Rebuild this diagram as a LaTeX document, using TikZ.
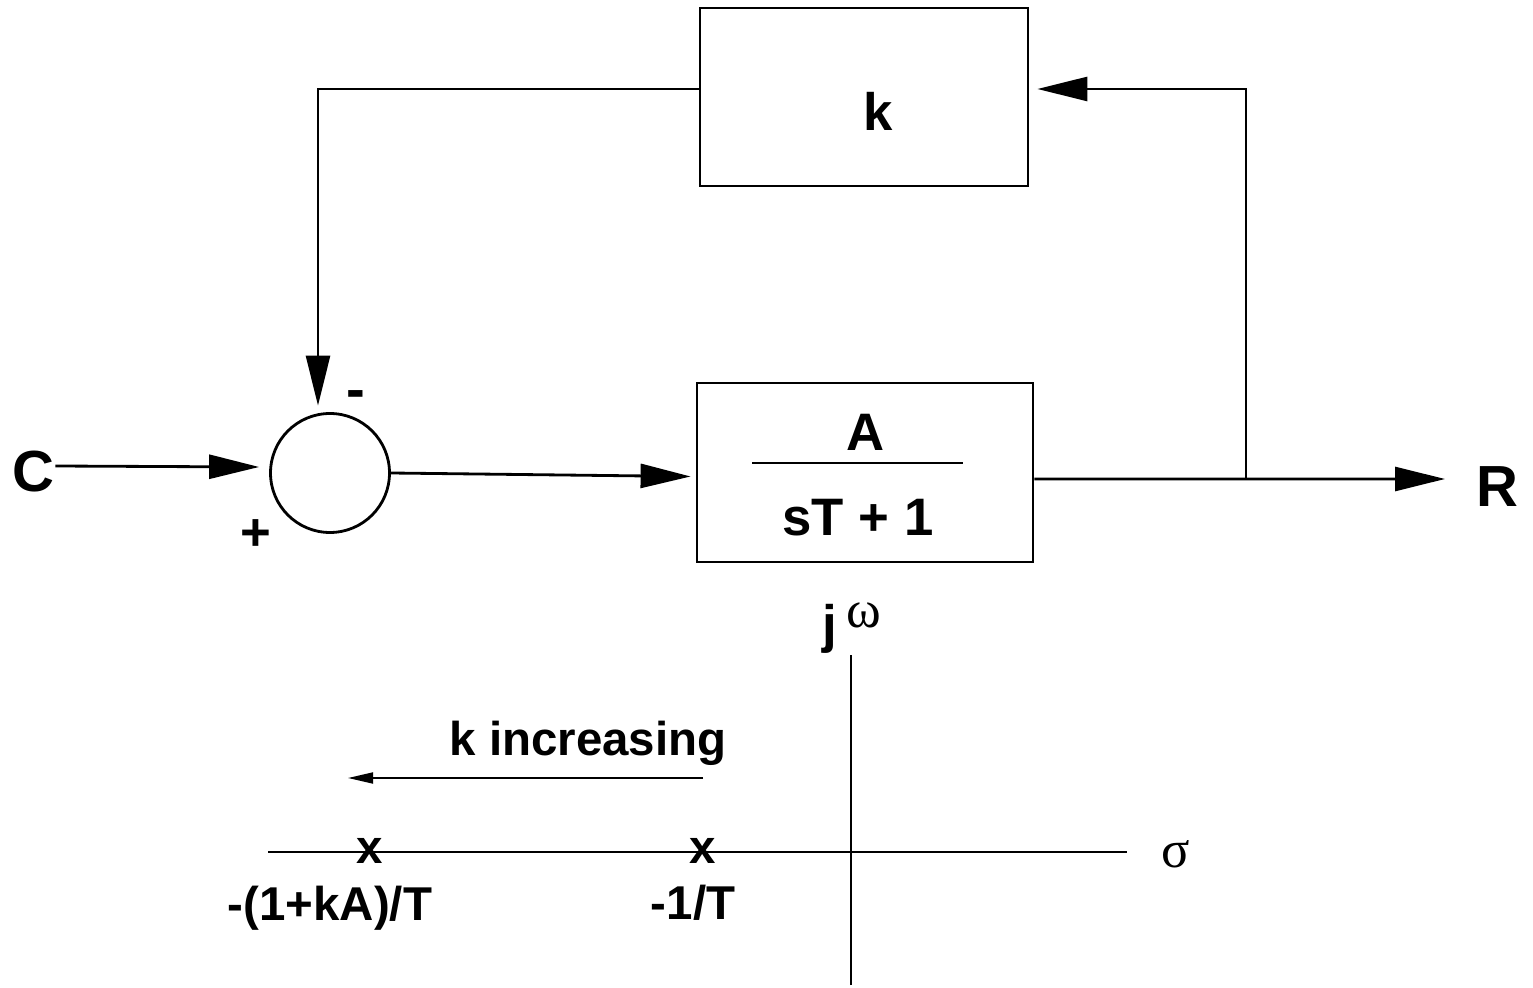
\documentclass[tikz,border=0pt]{standalone}
\usepackage{fontspec}
\setmainfont{Liberation Sans}
\newfontfamily\greekfont{Liberation Serif}
\usetikzlibrary{arrows.meta}
\usetikzlibrary{calc}
\usetikzlibrary{positioning}

\begin{document}
\begin{tikzpicture}[line width=0.8pt,
  block/.style={draw,rectangle,inner sep=0pt},
  lbl/.style={inner sep=0pt,font=\fontsize{15}{18}\selectfont\bfseries},
  small/.style={inner sep=0pt,font=\fontsize{13.5}{16}\selectfont\bfseries},
  flow/.style={-{Triangle[length=5mm,width=2.4mm]}}]
\useasboundingbox (0,0) rectangle (15.33,9.87);
% block diagram
\node[block,minimum width=3.28cm,minimum height=1.78cm] (kbox) at (8.64,8.90) {};
\node[lbl] (klbl) at (8.78,8.76) {k};
\node[block,minimum width=3.36cm,minimum height=1.79cm] (abox) at (8.65,5.145) {};
\node[lbl] (num) at (8.66,5.55) {A};
\node[lbl] (den) at (8.58,4.69) {sT + 1};
\draw (7.52,5.24) -- (9.63,5.24);
\node[draw,circle,inner sep=0pt,minimum size=1.19cm] (sum) at (3.30,5.14) {};
\node[lbl,font=\fontsize{16.5}{18}\selectfont\bfseries] (C) at (0.33,5.15) {C};
\node[lbl,font=\fontsize{16.5}{18}\selectfont\bfseries] (R) at (14.97,5.00) {R};
\node[lbl,font=\fontsize{16}{18}\selectfont\bfseries] (minus) at (3.56,5.87) {-};
\node[lbl] (plus) at (2.56,4.52) {+};
\coordinate (branch) at (12.46,5.08);
\coordinate (out) at (14.45,5.08);
\draw[flow] ([yshift=0.06cm]C.east) -- ([xshift=-0.1cm,yshift=0.06cm]sum.west);
\draw[flow] (sum.east) -- ([xshift=-0.05cm,yshift=-0.04cm]abox.west);
\draw[flow] ([yshift=-0.065cm]abox.east) -- (out);
\draw[flow] (branch) |- ([xshift=0.08cm,yshift=0.08cm]kbox.east);
\draw[flow] ([yshift=0.08cm]kbox.west) -| ([xshift=-0.12cm,yshift=0.065cm]sum.north);
% s-plane
\coordinate (xl) at (2.68,1.35);
\coordinate (xr) at (11.27,1.35);
\coordinate (yb) at (8.51,0.02);
\coordinate (yt) at (8.51,3.32);
\draw[line width=0.6pt] (xl) -- (xr);
\draw[line width=0.6pt] (yb) -- (yt);
\node[inner sep=0pt,font=\fontsize{15}{18}\selectfont\greekfont] (sigma) at (11.76,1.33) {σ};
\node[inner sep=0pt,anchor=base] (jw) at (8.52,3.44) {\fontsize{15}{18}\selectfont\bfseries j\,\raisebox{0.15cm}{\greekfont\mdseries ω}};
\node[small] (p1) at (3.70,1.36) {x};
\node[small] (p2) at (7.03,1.36) {x};
\node[small] (p1lbl) at (3.30,0.79) {-(1+kA)/T};
\node[small] (p2lbl) at (6.93,0.84) {-1/T};
\node[small] (kinc) at (5.88,2.44) {k increasing};
\coordinate (ks) at (7.03,2.09);
\coordinate (ke) at (3.48,2.09);
\draw[line width=0.5pt,-{Triangle[length=2.5mm,width=1.1mm]}] (ks) -- (ke);
\end{tikzpicture}
\end{document}
